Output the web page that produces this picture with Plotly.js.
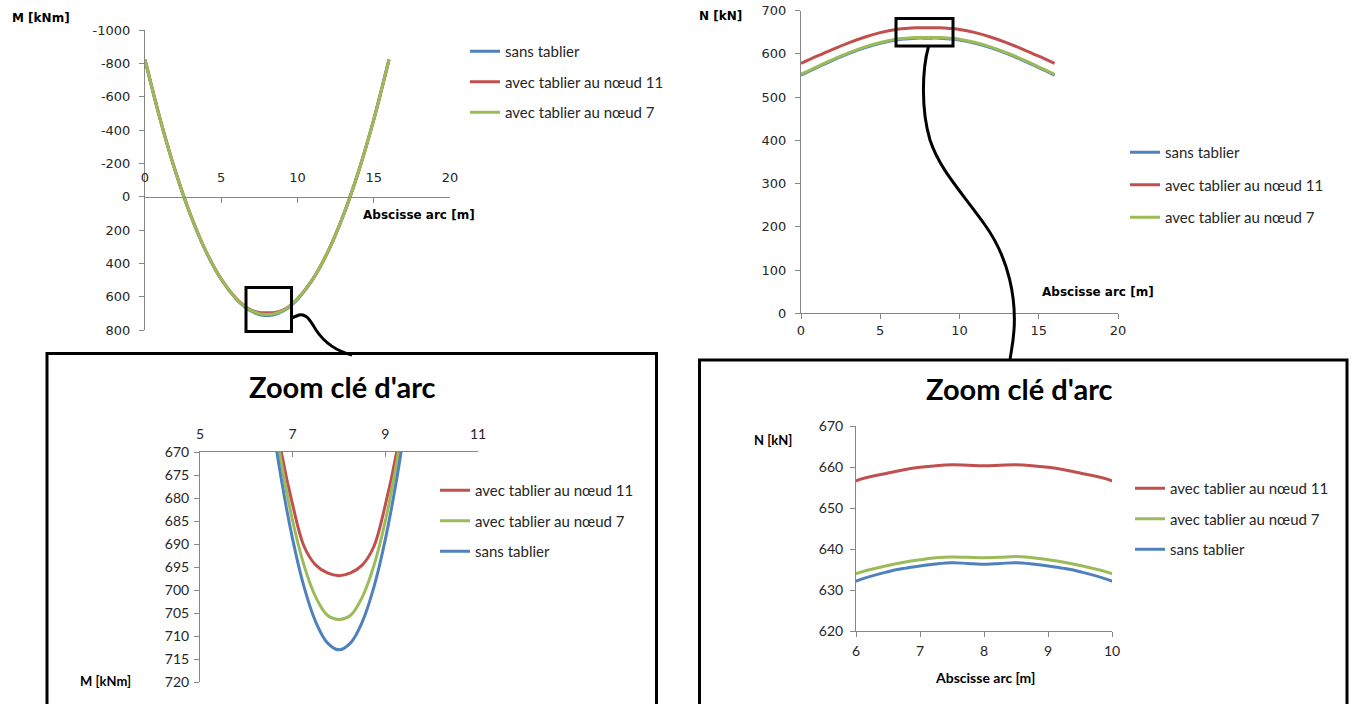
<!DOCTYPE html>
<html>
<head>
<meta charset="utf-8">
<script src="https://cdn.plot.ly/plotly-3.0.1.min.js"></script>
<style>
  html, body { margin: 0; padding: 0; background: #ffffff; }
  #chart { width: 1352px; height: 704px; }
</style>
</head>
<body>
<div id="chart"></div>
<script>
// Abscisse le long de l'arc [m]
const ABSCISSE = [0, 1, 2, 3, 4, 5, 6, 6.5, 6.75, 7, 7.25, 7.5, 7.75, 8, 8.25, 8.5, 8.75, 9, 9.25, 9.5, 10, 11, 12, 13, 14, 15, 16];

// Moment fléchissant M [kNm]
const M_SANS_TABLIER = [-822, -462, -150, 114, 330, 497, 617, 659, 675.6, 689, 699.5, 707, 711.5, 713, 711.5, 707, 699.5, 689, 675.6, 659, 617, 497, 330, 114, -150, -462, -822];
const M_NOEUD_11     = [-822, -462.5, -151, 111.5, 328, 494.5, 613, 653.5, 669.7, 681.5, 690.6, 694.6, 696.3, 696.9, 696.3, 694.6, 690.6, 681.5, 669.7, 653.5, 613, 494.5, 328, 111.5, -151, -462.5, -822];
const M_NOEUD_7      = [-822, -462, -150.5, 112.5, 328.5, 495.5, 614.5, 656, 672, 685, 694.8, 701.6, 705.5, 706.4, 705.5, 701.6, 694.8, 685, 672, 656, 614.5, 495.5, 328.5, 112.5, -150.5, -462, -822];

// Effort normal N [kN]
const N_SANS_TABLIER = [551, 568.4, 585, 600.5, 613.9, 624.7, 632.2, 634.5, 635.3, 635.9, 636.4, 636.7, 636.5, 636.3, 636.5, 636.7, 636.4, 635.9, 635.3, 634.5, 632.2, 624.7, 613.9, 600.5, 585, 568.4, 551];
const N_NOEUD_11     = [578, 594.7, 610.7, 625.7, 638.7, 649.2, 656.7, 658.6, 659.4, 660, 660.4, 660.6, 660.5, 660.4, 660.5, 660.6, 660.4, 660, 659.4, 658.6, 656.7, 649.2, 638.7, 625.7, 610.7, 594.7, 578];
const N_NOEUD_7      = [553, 570.2, 586.8, 602.3, 615.7, 626.5, 634, 636, 636.8, 637.4, 637.9, 638.1, 638, 637.9, 638, 638.2, 637.9, 637.4, 636.8, 636, 634, 626.5, 615.7, 602.3, 586.8, 570.2, 553];

// Noms des séries
const SERIES_NAMES = ['sans tablier', 'avec tablier au nœud 11', 'avec tablier au nœud 7'];

// Graduations
const M_TICKS = [-1000, -800, -600, -400, -200, 0, 200, 400, 600, 800];
const M_TICK_LABELS = ['-1000', '-800', '-600', '-400', '-200', '0', '200', '400', '600', '800'];
const X_TICKS = [0, 5, 10, 15, 20];
const M_ZOOM_TICKS = [670, 675, 680, 685, 690, 695, 700, 705, 710, 715, 720];
const M_ZOOM_X_TICKS = [5, 7, 9, 11];
const N_TICKS = [0, 100, 200, 300, 400, 500, 600, 700];
const N_ZOOM_TICKS = [620, 630, 640, 650, 660, 670];
const N_ZOOM_X_TICKS = [6, 7, 8, 9, 10];

const TITLE_ZOOM = "Zoom clé d'arc";
const TITLE_M = 'M [kNm]';
const TITLE_N = 'N [kN]';
const TITLE_X = 'Abscisse arc [m]';

// Couleurs
const BLUE = '#4F81BD', RED = '#C0504D', GREEN = '#9BBB59';
const AXIS = '#868686', TEXT = '#262626';

// Conversion pixels -> coordonnées papier
const W = 1352, H = 704;
const px = v => v / W;
const py = v => 1 - v / H;
function pathPx(cmds) {
  return cmds.map(c => {
    if (typeof c === 'string') return c;
    return px(c[0]).toFixed(5) + ',' + py(c[1]).toFixed(5);
  }).join(' ');
}

const lineW = 3;
function trace(x, y, name, color, xa, ya, legend, group) {
  return {
    type: 'scatter', mode: 'lines', x: x, y: y, name: name,
    line: { color: color, width: lineW, shape: 'spline', smoothing: 1 },
    xaxis: xa, yaxis: ya, legend: legend, legendgroup: group,
    hoverinfo: 'skip'
  };
}

const traces = [
  // Moment - vue d'ensemble
  trace(ABSCISSE, M_SANS_TABLIER, SERIES_NAMES[0], BLUE, 'x', 'y', 'legend', 'a1'),
  trace(ABSCISSE, M_NOEUD_11, SERIES_NAMES[1], RED, 'x', 'y', 'legend', 'a2'),
  trace(ABSCISSE, M_NOEUD_7, SERIES_NAMES[2], GREEN, 'x', 'y', 'legend', 'a3'),
  // Effort normal - vue d'ensemble
  trace(ABSCISSE, N_SANS_TABLIER, SERIES_NAMES[0], BLUE, 'x2', 'y2', 'legend2', 'b1'),
  trace(ABSCISSE, N_NOEUD_11, SERIES_NAMES[1], RED, 'x2', 'y2', 'legend2', 'b2'),
  trace(ABSCISSE, N_NOEUD_7, SERIES_NAMES[2], GREEN, 'x2', 'y2', 'legend2', 'b3'),
  // Moment - zoom clé
  trace(ABSCISSE, M_NOEUD_11, SERIES_NAMES[1], RED, 'x3', 'y3', 'legend3', 'c1'),
  trace(ABSCISSE, M_NOEUD_7, SERIES_NAMES[2], GREEN, 'x3', 'y3', 'legend3', 'c2'),
  trace(ABSCISSE, M_SANS_TABLIER, SERIES_NAMES[0], BLUE, 'x3', 'y3', 'legend3', 'c3'),
  // Effort normal - zoom clé
  trace(ABSCISSE, N_NOEUD_11, SERIES_NAMES[1], RED, 'x4', 'y4', 'legend4', 'd1'),
  trace(ABSCISSE, N_NOEUD_7, SERIES_NAMES[2], GREEN, 'x4', 'y4', 'legend4', 'd2'),
  trace(ABSCISSE, N_SANS_TABLIER, SERIES_NAMES[0], BLUE, 'x4', 'y4', 'legend4', 'd3')
];

const mainTickFont = { family: 'DejaVu Sans', size: 13, color: TEXT };
const zoomTickFont = { family: 'Lato', size: 14, color: TEXT };
const legendFont = { family: 'Lato', size: 15, color: TEXT };

function axisBase(extra) {
  return Object.assign({
    showgrid: false, zeroline: false, showline: true,
    linecolor: AXIS, linewidth: 1, tickcolor: AXIS, ticklen: 5, tickwidth: 1,
    fixedrange: true, tickmode: 'array'
  }, extra);
}

function legendAt(left, top, gap) {
  return {
    x: px(left), y: py(top), xanchor: 'left', yanchor: 'top',
    bgcolor: 'rgba(0,0,0,0)', borderwidth: 0, font: legendFont,
    traceorder: 'grouped', tracegroupgap: gap, itemclick: false, itemdoubleclick: false
  };
}

const layout = {
  width: W, height: H,
  margin: { l: 0, r: 0, t: 0, b: 0 },
  paper_bgcolor: '#ffffff', plot_bgcolor: 'rgba(0,0,0,0)',
  showlegend: true,

  // M - vue d'ensemble (axe des abscisses au niveau M = 0, étiquettes au-dessus)
  xaxis: axisBase({
    domain: [px(145), px(450)], range: [0, 20], anchor: 'free', position: py(196.7),
    side: 'top', ticks: 'inside', tickvals: X_TICKS, ticktext: X_TICKS.map(String),
    tickfont: mainTickFont, ticklabelstandoff: 10
  }),
  yaxis: axisBase({
    domain: [py(330), py(30)], range: [800, -1000], anchor: 'x',
    ticks: 'outside', tickvals: M_TICKS, ticktext: M_TICK_LABELS,
    tickfont: mainTickFont, ticklabelstandoff: 6
  }),

  // N - vue d'ensemble
  xaxis2: axisBase({
    domain: [px(801), px(1118)], range: [0, 20], anchor: 'y2',
    ticks: 'outside', tickvals: X_TICKS, ticktext: X_TICKS.map(String),
    tickfont: mainTickFont
  }),
  yaxis2: axisBase({
    domain: [py(313.3), py(10.7)], range: [0, 700], anchor: 'x2',
    ticks: 'outside', tickvals: N_TICKS, ticktext: N_TICKS.map(String),
    tickfont: mainTickFont, ticklabelstandoff: 6
  }),

  // M - zoom clé d'arc
  xaxis3: axisBase({
    domain: [px(200), px(478)], range: [5, 11], anchor: 'y3', side: 'top',
    ticks: 'inside', tickvals: M_ZOOM_X_TICKS, ticktext: M_ZOOM_X_TICKS.map(String),
    tickfont: zoomTickFont, ticklabelstandoff: 6
  }),
  yaxis3: axisBase({
    domain: [py(682), py(452)], range: [720, 670], anchor: 'x3',
    ticks: 'outside', tickvals: M_ZOOM_TICKS, ticktext: M_ZOOM_TICKS.map(String),
    tickfont: zoomTickFont, ticklabelstandoff: 2
  }),

  // N - zoom clé d'arc
  xaxis4: axisBase({
    domain: [px(856), px(1112)], range: [6, 10], anchor: 'y4',
    ticks: 'outside', tickvals: N_ZOOM_X_TICKS, ticktext: N_ZOOM_X_TICKS.map(String),
    tickfont: zoomTickFont, ticklabelstandoff: 2
  }),
  yaxis4: axisBase({
    domain: [py(631), py(426.4)], range: [620, 670], anchor: 'x4',
    ticks: 'outside', tickvals: N_ZOOM_TICKS, ticktext: N_ZOOM_TICKS.map(String),
    tickfont: zoomTickFont, ticklabelstandoff: 4
  }),

  legend: legendAt(465, 35, 8),
  legend2: legendAt(1125, 136, 10),
  legend3: legendAt(435, 474, 8),
  legend4: legendAt(1130, 472, 8),

  annotations: [
    { text: '<b>' + TITLE_M + '</b>', x: px(10), y: py(18), xanchor: 'left', yanchor: 'middle',
      font: { family: 'DejaVu Sans', size: 12, color: '#000' } },
    { text: '<b>' + TITLE_X + '</b>', x: px(361), y: py(215), xanchor: 'left', yanchor: 'middle',
      font: { family: 'DejaVu Sans', size: 12, color: '#000' } },
    { text: '<b>' + TITLE_N + '</b>', x: px(697), y: py(16), xanchor: 'left', yanchor: 'middle',
      font: { family: 'DejaVu Sans', size: 12, color: '#000' } },
    { text: '<b>' + TITLE_X + '</b>', x: px(1040), y: py(292), xanchor: 'left', yanchor: 'middle',
      font: { family: 'DejaVu Sans', size: 12, color: '#000' } },
    { text: '<b>' + TITLE_ZOOM + '</b>', x: px(342), y: py(386), xanchor: 'center', yanchor: 'middle',
      font: { family: 'Lato', size: 29, color: '#000' } },
    { text: '<b>' + TITLE_ZOOM + '</b>', x: px(1019), y: py(388), xanchor: 'center', yanchor: 'middle',
      font: { family: 'Lato', size: 29, color: '#000' } },
    { text: '<b>' + TITLE_M + '</b>', x: px(78), y: py(681), xanchor: 'left', yanchor: 'middle',
      font: { family: 'Lato', size: 13, color: '#000' } },
    { text: '<b>' + TITLE_N + '</b>', x: px(752), y: py(440), xanchor: 'left', yanchor: 'middle',
      font: { family: 'Lato', size: 13, color: '#000' } },
    { text: '<b>' + TITLE_X + '</b>', x: px(985), y: py(677), xanchor: 'center', yanchor: 'middle',
      font: { family: 'Lato', size: 14, color: '#000' } }
  ].map(a => Object.assign({ xref: 'paper', yref: 'paper', showarrow: false }, a)),

  shapes: [
    // cadre de zoom sur le graphe M
    { type: 'rect', x0: px(246), x1: px(291.5), y0: py(331.5), y1: py(287.5) },
    // liaison vers l'encadré M
    { type: 'path', path: pathPx(['M', [291.5, 318], 'L', [299, 315], 'C', [306, 313], [310, 320], [316, 330],
                                  'C', [324, 342], [336, 351], [352, 355]]) },
    // encadré zoom M
    { type: 'rect', x0: px(47), x1: px(656.5), y0: py(740), y1: py(353.5) },
    // cadre de zoom sur le graphe N
    { type: 'rect', x0: px(896), x1: px(953), y0: py(46), y1: py(18.5) },
    // liaison vers l'encadré N
    { type: 'path', path: pathPx(['M', [928.5, 46.5], 'C', [922, 70], [921, 110], [930, 140],
                                  'C', [940, 170], [960, 190], [985, 225],
                                  'C', [1010, 260], [1016, 300], [1014, 330],
                                  'C', [1013, 345], [1011, 352], [1010, 360]]) },
    // encadré zoom N
    { type: 'rect', x0: px(699.5), x1: px(1347), y0: py(740), y1: py(360) }
  ].map(s => Object.assign({ xref: 'paper', yref: 'paper', line: { color: '#000', width: 3 },
                             fillcolor: 'rgba(0,0,0,0)', layer: 'above' }, s))
};

Plotly.newPlot('chart', traces, layout, { staticPlot: true, displayModeBar: false });
</script>
</body>
</html>
